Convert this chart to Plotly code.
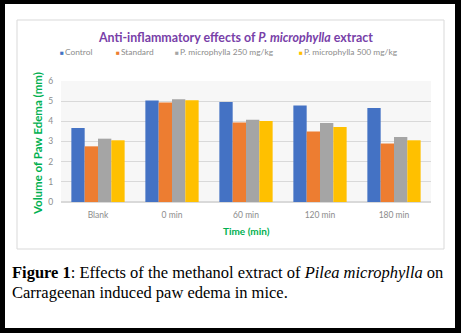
import plotly.graph_objects as go

categories = ["Blank", "0 min", "60 min", "120 min", "180 min"]
control = [3.67, 5.03, 4.96, 4.78, 4.66]
standard = [2.76, 4.93, 3.94, 3.49, 2.90]
pm250 = [3.14, 5.10, 4.08, 3.92, 3.22]
pm500 = [3.06, 5.04, 4.02, 3.72, 3.06]
series_names = ["Control", "Standard", "P. microphylla 250 mg/kg", "P. microphylla 500 mg/kg"]
series_colors = ["#4472C4", "#ED7D31", "#A5A5A5", "#FFC000"]
y_ticks = [0, 1, 2, 3, 4, 5, 6]

W, H = 461, 333
L, R, T, B = 61, 30, 81, 131
PW = W - L - R
PH = H - T - B
FONT = "Lato"


def px(xp):
    return (xp - L) / PW


def py(yp):
    return (H - B - yp) / PH


fig = go.Figure()
for name, vals, col in zip(series_names, [control, standard, pm250, pm500], series_colors):
    fig.add_trace(go.Bar(x=categories, y=vals, name=name, showlegend=False,
                         marker=dict(color=col, line=dict(width=0))))

shapes = []
# chart panel border
shapes.append(dict(type="rect", xref="paper", yref="paper", x0=px(17), x1=px(444), y0=py(249), y1=py(20),
                   line=dict(color="#d9d9d9", width=1), fillcolor="rgba(0,0,0,0)", layer="below"))
# black frame
black = dict(type="rect", xref="paper", yref="paper", fillcolor="black", line=dict(width=0), layer="above")
shapes.append({**black, "x0": px(0), "x1": px(5), "y0": py(H), "y1": py(0)})
shapes.append({**black, "x0": px(455), "x1": px(W), "y0": py(H), "y1": py(0)})
shapes.append({**black, "x0": px(0), "x1": px(W), "y0": py(4), "y1": py(0)})
shapes.append({**black, "x0": px(0), "x1": px(W), "y0": py(H), "y1": py(328)})

annotations = [
    dict(text="Anti-inflammatory effects of <i>P. microphylla</i> extract", xref="paper", yref="paper",
         x=px(235), y=py(37), xanchor="center", yanchor="middle", showarrow=False,
         font=dict(family=FONT, size=12.4, color="#7840A8", weight="bold")),
    dict(text="Volume of Paw Edema (mm)", xref="paper", yref="paper", x=px(37), y=py(144),
         xanchor="center", yanchor="middle", textangle=-90, showarrow=False,
         font=dict(family=FONT, size=11.5, color="#00B050", weight="bold")),
    dict(text="Time (min)", xref="paper", yref="paper", x=px(246), y=py(231),
         xanchor="center", yanchor="middle", showarrow=False,
         font=dict(family=FONT, size=10, color="#00B050", weight="bold")),
    dict(text="<b>Figure 1</b>: Effects of the methanol extract of <i>Pilea microphylla</i> on",
         xref="paper", yref="paper", x=px(10), y=py(272), xanchor="left", yanchor="middle", showarrow=False,
         font=dict(family="Liberation Serif", size=16.5, color="black")),
    dict(text="Carrageenan induced paw edema in mice.",
         xref="paper", yref="paper", x=px(10), y=py(292), xanchor="left", yanchor="middle", showarrow=False,
         font=dict(family="Liberation Serif", size=16.5, color="black")),
]

# legend entries (symbol + label) laid out like the original
legend_x = [58, 114, 173, 297]
for name, col, lx in zip(series_names, series_colors, legend_x):
    annotations.append(dict(
        text=f'<span style="color:{col};font-size:6.5px">■</span>\u2009{name}',
        xref="paper", yref="paper", x=px(lx), y=py(52), xanchor="left", yanchor="middle",
        showarrow=False, font=dict(family=FONT, size=8.4, color="#8c8c8c")))

fig.update_layout(
    width=W, height=H,
    margin=dict(l=L, r=R, t=T, b=B, autoexpand=False),
    paper_bgcolor="white",
    plot_bgcolor="#f7f7f7",
    barmode="group", bargap=0.28, bargroupgap=0,
    shapes=shapes,
    annotations=annotations,
    font=dict(family=FONT, color="#8c8c8c"),
)
fig.update_xaxes(showgrid=False, showline=False, ticks="outside", ticklen=5, tickcolor="rgba(0,0,0,0)",
                 tickfont=dict(family=FONT, size=8.5, color="#8c8c8c"), zeroline=False)
fig.update_yaxes(range=[0, 6], tickvals=y_ticks, showgrid=True, gridcolor="#d9d9d9", gridwidth=1,
                 zeroline=True, zerolinecolor="#d9d9d9", showline=False,
                 ticks="outside", ticklen=5, tickcolor="rgba(0,0,0,0)",
                 tickfont=dict(family=FONT, size=8.5, color="#8c8c8c"))

fig.write_html("out.html", config={"displayModeBar": False},
               post_script="document.body.style.margin='0';")
